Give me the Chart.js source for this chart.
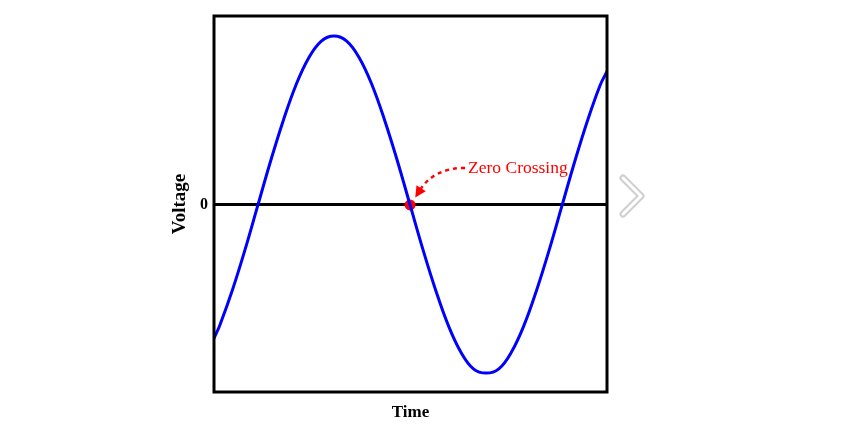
<!DOCTYPE html>
<html><head><meta charset="utf-8">
<script src="https://cdn.jsdelivr.net/npm/chart.js@4/dist/chart.umd.min.js"></script>
<style>html,body{margin:0;padding:0;background:#fff;}canvas{display:block;}</style>
</head><body>
<canvas id="c" width="860" height="433"></canvas>
<script>
// Time axis (phase in degrees) and voltage values
const timeDeg = [-52,-45,-30,-15,0,15,30,45,60,75,90,105,120,135,150,165,180,195,210,225,240,255,270,285,300,315,330,345,360,375,390,405,413];
const voltage = [-0.79,-0.71,-0.50,-0.26,0,0.26,0.50,0.71,0.87,0.97,1.00,0.97,0.87,0.71,0.50,0.26,0,-0.26,-0.50,-0.71,-0.87,-0.97,-0.995,-0.97,-0.87,-0.71,-0.50,-0.26,0,0.26,0.50,0.71,0.79];
const yTickValues = [0];
const yTickLabels = ['0'];
const crossingTime = [180];
const crossingVoltage = [0];
const annotationText = 'Zero Crossing';
const xTitle = 'Time';
const yTitle = 'Voltage';

const serifBold = (size) => ({family: '"Liberation Serif", "Times New Roman", serif', size: size, weight: 'bold'});

const framePlugin = {
  id: 'frame',
  afterDraw(chart) {
    const {ctx, chartArea: a, scales: {x, y}} = chart;
    ctx.save();
    // box
    ctx.strokeStyle = '#000';
    ctx.lineWidth = 3;
    ctx.strokeRect(a.left, a.top, a.right - a.left, a.bottom - a.top);

    // annotation arrow
    const px = x.getPixelForValue(crossingTime[0]);
    const py = y.getPixelForValue(crossingVoltage[0]);
    ctx.strokeStyle = '#ff0000';
    ctx.fillStyle = '#ff0000';
    ctx.lineWidth = 2.5;
    ctx.setLineDash([4, 4]);
    const sx = px + 55, sy = py - 37, cx = px + 24, cy = py - 37, ex = px + 10, ey = py - 15;
    ctx.beginPath();
    ctx.moveTo(sx, sy);
    ctx.quadraticCurveTo(cx, cy, ex, ey);
    ctx.stroke();
    ctx.setLineDash([]);
    let dx = ex - cx, dy = ey - cy;
    const len = Math.hypot(dx, dy); dx /= len; dy /= len;
    const tx = ex + dx * 9, ty = ey + dy * 9;
    const bx = ex - dx * 2, by = ey - dy * 2;
    ctx.beginPath();
    ctx.moveTo(tx, ty);
    ctx.lineTo(bx - dy * 5.5, by + dx * 5.5);
    ctx.lineTo(bx + dy * 5.5, by - dx * 5.5);
    ctx.closePath();
    ctx.fill();

    ctx.font = '17.5px "Liberation Serif", "Times New Roman", serif';
    ctx.textBaseline = 'middle';
    ctx.textAlign = 'left';
    ctx.fillText(annotationText, px + 58, py - 37);

    // carousel chevron on the right
    const chx = a.right + 16, chy = (a.top + a.bottom) / 2 - 8;
    ctx.lineCap = 'round';
    ctx.lineJoin = 'round';
    ctx.beginPath();
    ctx.moveTo(chx, chy - 18);
    ctx.lineTo(chx + 18, chy);
    ctx.lineTo(chx, chy + 18);
    ctx.strokeStyle = '#cfcfcf';
    ctx.lineWidth = 7;
    ctx.stroke();
    ctx.strokeStyle = '#ffffff';
    ctx.lineWidth = 3;
    ctx.stroke();
    ctx.restore();
  }
};

new Chart(document.getElementById('c'), {
  type: 'line',
  data: {
    datasets: [
      {
        data: timeDeg.map((t, i) => ({x: t, y: voltage[i]})),
        borderColor: '#0000ff',
        borderWidth: 3,
        pointRadius: 0,
        tension: 0.4,
        fill: false
      },
      {
        data: crossingTime.map((t, i) => ({x: t, y: crossingVoltage[i]})),
        showLine: false,
        pointRadius: 5.5,
        pointBackgroundColor: '#ff0000',
        pointBorderColor: '#ff0000',
        pointBorderWidth: 0
      }
    ]
  },
  options: {
    responsive: false,
    animation: false,
    layout: {padding: {left: 169, top: 16, right: 253, bottom: 0}},
    plugins: {legend: {display: false}, tooltip: {enabled: false}},
    scales: {
      x: {
        type: 'linear', min: -52, max: 413,
        ticks: {display: false},
        grid: {display: false, drawTicks: false},
        border: {display: false},
        title: {display: true, text: xTitle, color: '#000', font: serifBold(17), padding: {top: 0, bottom: 10}},
        afterFit(s) { s.height = 41; }
      },
      y: {
        min: -1.107, max: 1.118,
        afterBuildTicks(s) { s.ticks = yTickValues.map(v => ({value: v})); },
        ticks: {color: '#000', font: serifBold(16), padding: 6, callback: (v) => yTickLabels[yTickValues.indexOf(v)] ?? ''},
        grid: {color: '#000', lineWidth: 3, drawTicks: false},
        border: {display: false},
        title: {display: true, text: yTitle, color: '#000', font: serifBold(19), padding: {top: 0, bottom: 0}},
        afterFit(s) { s.width = 214 - 169; }
      }
    }
  },
  plugins: [framePlugin]
});
</script>
</body></html>
